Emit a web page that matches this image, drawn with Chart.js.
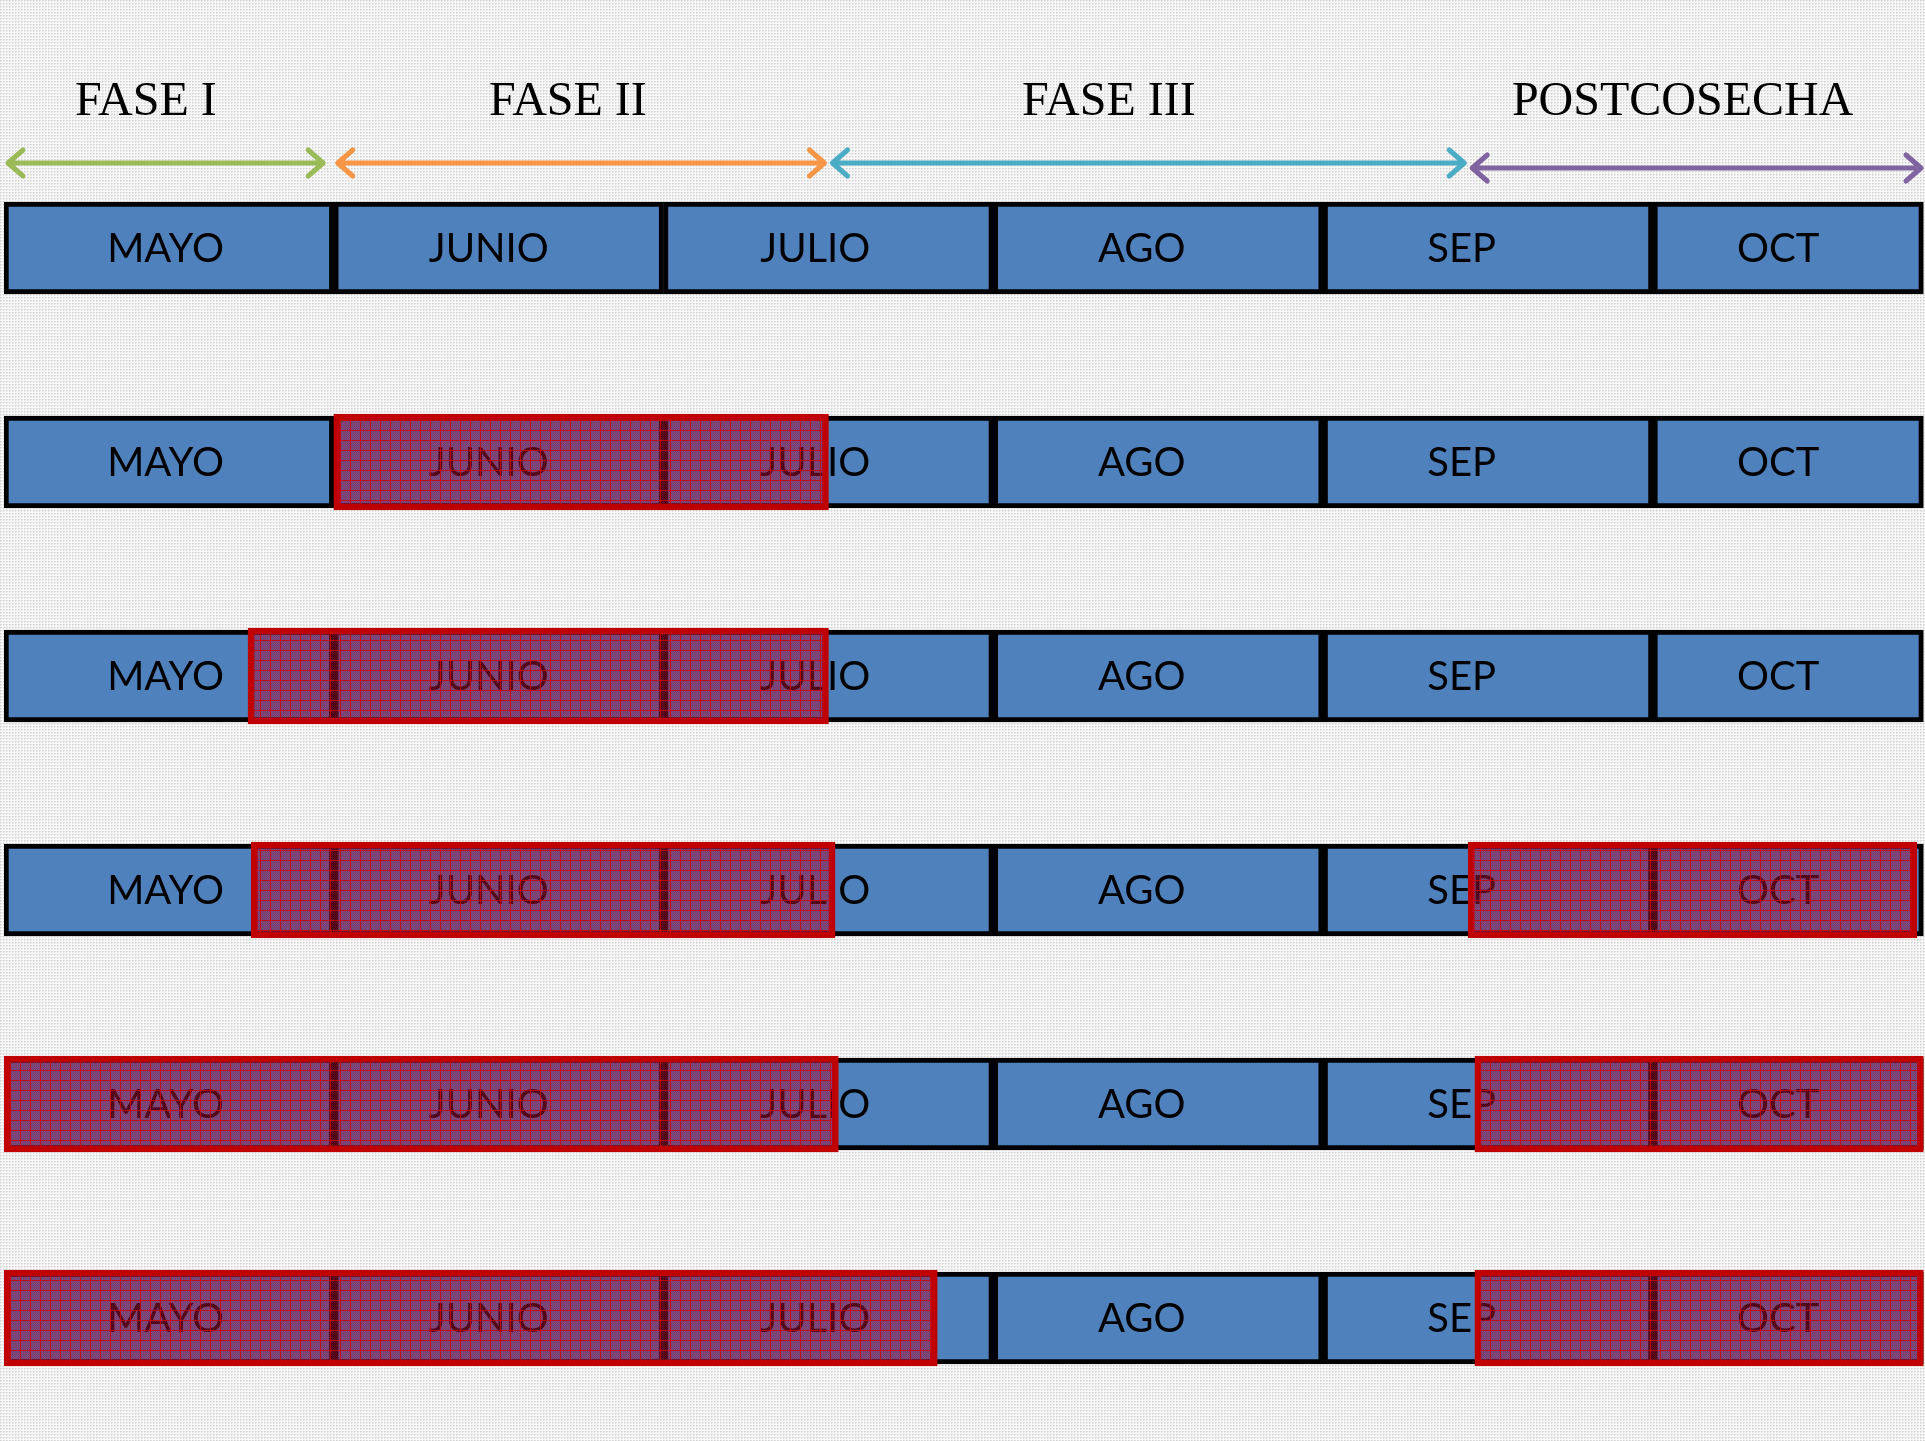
<!DOCTYPE html>
<html lang="es">
<head>
<meta charset="utf-8">
<title>Fases del cultivo por mes</title>
<script src="https://cdn.jsdelivr.net/npm/chart.js@4.4.1/dist/chart.umd.min.js"></script>
<style>
  html, body { margin: 0; padding: 0; background: #ececec; }
  #wrap { width: 1925px; height: 1441px; }
</style>
</head>
<body>
<div id="wrap"><canvas id="c" width="1925" height="1441"></canvas></div>
<script>
// Months along the timeline (0 = start of May), one box per month
const months = ['MAYO', 'JUNIO', 'JULIO', 'AGO', 'SEP', 'OCT'];
const monthStart = [0, 1, 2, 3, 4, 5];
const monthEnd = [1, 2, 3, 4, 5, 5.82];
// Where each month name sits along the timeline
const monthLabelAt = [0.49, 1.47, 2.46, 3.45, 4.42, 5.38];

// Timeline rows, top to bottom
const rows = ['1', '2', '3', '4', '5', '6'];

// Highlighted periods per row (in months from May 1); null = no period
const periodA = [null, [1, 2.5], [0.74, 2.5], [0.75, 2.52], [0, 2.53], [0, 2.83]];
const periodB = [null, null, null, [4.44, 5.8], [4.46, 5.82], [4.46, 5.82]];

// Crop phases shown above the timeline
const phases = ['FASE I', 'FASE II', 'FASE III', 'POSTCOSECHA'];
const phaseStart = [0, 1, 2.5, 4.44];
const phaseEnd = [0.98, 2.5, 4.44, 5.825];
const phaseLabelAt = [0.43, 1.71, 3.35, 5.09];
const phaseColors = ['#9bbb59', '#f79646', '#4bacc6', '#8064a2'];

// Fine textured paper background
function makeBackgroundPattern(ctx) {
  const t = document.createElement('canvas');
  t.width = 3; t.height = 3;
  const g = t.getContext('2d');
  g.fillStyle = '#f7f7f7'; g.fillRect(0, 0, 3, 3);
  g.fillStyle = '#e0e0e0'; g.fillRect(1, 0, 1, 1); g.fillRect(0, 1, 1, 1);
  g.fillStyle = '#d2d2d2'; g.fillRect(0, 0, 1, 1);
  return ctx.createPattern(t, 'repeat');
}

// Red cross-hatched fill for highlighted periods
function makeHatchPattern(ctx) {
  const n = 10;
  const t = document.createElement('canvas');
  t.width = n; t.height = n;
  const g = t.getContext('2d');
  for (let y = 0; y < n; y++) {
    for (let x = 0; x < n; x++) {
      if (x === 0 || y === 0) g.fillStyle = 'rgba(205,0,0,0.9)';
      else if ((x + y) % 2 === 0) g.fillStyle = 'rgba(200,0,20,0.6)';
      else g.fillStyle = 'rgba(120,20,90,0.38)';
      g.fillRect(x, y, 1, 1);
    }
  }
  return ctx.createPattern(t, 'repeat');
}

const canvas = document.getElementById('c');
const ctx0 = canvas.getContext('2d');
const hatch = makeHatchPattern(ctx0);
const paper = makeBackgroundPattern(ctx0);

const monthDatasets = months.map((m, i) => ({
  label: m,
  data: rows.map(() => [monthStart[i], monthEnd[i]]),
  backgroundColor: '#4f81bd',
  borderColor: '#000000',
  borderWidth: 5,
  borderSkipped: false,
  barThickness: 92,
  grouped: false,
  order: 2
}));

const periodStyle = {
  backgroundColor: hatch,
  borderColor: '#c00000',
  borderWidth: 6,
  borderSkipped: false,
  barThickness: 96,
  grouped: false,
  order: 1
};

const datasets = monthDatasets.concat([
  Object.assign({ label: 'periodo A', data: periodA }, periodStyle),
  Object.assign({ label: 'periodo B', data: periodB }, periodStyle)
]);

const paperPlugin = {
  id: 'paper',
  beforeDraw(chart) {
    const c = chart.ctx;
    c.save();
    c.fillStyle = paper;
    c.fillRect(0, 0, chart.width, chart.height);
    c.restore();
  }
};

// Month names written inside each month box, beneath the highlighted periods
const monthLabelPlugin = {
  id: 'monthLabels',
  afterDatasetDraw(chart, args) {
    const i = args.index;
    if (i >= months.length) return;
    const c = chart.ctx;
    const area = chart.chartArea;
    const lx = chart.scales.x.getPixelForValue(monthLabelAt[i]);
    c.save();
    c.beginPath();
    c.rect(area.left, area.top, area.right - area.left, area.bottom - area.top);
    c.clip();
    c.fillStyle = '#000000';
    c.font = '40px Lato';
    c.textAlign = 'center';
    c.textBaseline = 'middle';
    args.meta.data.forEach(el => {
      const p = el.getProps(['y'], true);
      c.fillText(months[i], lx, p.y + 1);
    });
    c.restore();
  }
};

// Phase titles and double-headed arrows over the first row
const phasePlugin = {
  id: 'phases',
  afterDraw(chart) {
    const c = chart.ctx;
    const xs = chart.scales.x;
    const firstRowY = chart.scales.y.getPixelForValue(0);
    const arrowY = firstRowY - 85;
    const labelY = firstRowY - 146;
    c.save();
    c.fillStyle = '#000000';
    c.font = '48px "Liberation Serif"';
    c.textAlign = 'center';
    c.textBaseline = 'middle';
    phases.forEach((p, i) => {
      c.fillText(p, xs.getPixelForValue(phaseLabelAt[i]), labelY);
    });
    c.lineWidth = 5;
    c.lineCap = 'round';
    c.lineJoin = 'round';
    phases.forEach((p, i) => {
      const x1 = xs.getPixelForValue(phaseStart[i]) + 4;
      const x2 = Math.min(xs.getPixelForValue(phaseEnd[i]), chart.width) - 4;
      const y = arrowY + (i === 3 ? 5 : 0);
      c.strokeStyle = phaseColors[i];
      c.beginPath();
      c.moveTo(x1, y); c.lineTo(x2, y);
      c.moveTo(x1 + 15, y - 13); c.lineTo(x1, y); c.lineTo(x1 + 15, y + 13);
      c.moveTo(x2 - 15, y - 13); c.lineTo(x2, y); c.lineTo(x2 - 15, y + 13);
      c.stroke();
    });
    c.restore();
  }
};

new Chart(canvas, {
  type: 'bar',
  data: { labels: rows, datasets: datasets },
  options: {
    indexAxis: 'y',
    responsive: false,
    devicePixelRatio: 1,
    animation: false,
    layout: { padding: { left: 4, right: 0, top: 141, bottom: 16 } },
    scales: {
      x: { type: 'linear', min: 0, max: 5.825, display: false },
      y: { type: 'category', display: false }
    },
    plugins: {
      legend: { display: false },
      tooltip: { enabled: false }
    }
  },
  plugins: [paperPlugin, monthLabelPlugin, phasePlugin]
});
</script>
</body>
</html>
